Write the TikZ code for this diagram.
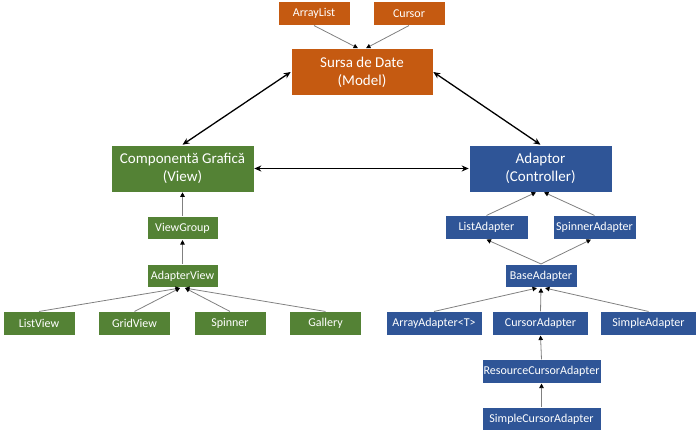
\documentclass[tikz,border=0pt]{standalone}
\usepackage{fontspec}
\setmainfont{Carlito}
\usetikzlibrary{arrows.meta}
\definecolor{modelcol}{HTML}{C55A11}
\definecolor{viewcol}{HTML}{548235}
\definecolor{ctrlcol}{HTML}{2F5597}
\begin{document}
\begin{tikzpicture}[x=1pt,y=-1pt,
    box/.style={draw=white,line width=0.6pt,text=white,inner sep=0pt,
      minimum height=23.5pt,font=\fontsize{12}{14}\selectfont},
    bigbox/.style={box,minimum width=143pt,minimum height=47pt,align=center,
      font=\fontsize{15}{18}\selectfont},
    model/.style={box,fill=modelcol},
    view/.style={box,fill=viewcol},
    ctrl/.style={box,fill=ctrlcol},
    inherit/.style={draw=gray,line width=0.8pt,-{Triangle[black,length=4.5pt,width=4.5pt]}},
    link/.style={draw=black,line width=1.3pt,{Stealth[length=7pt,width=6pt]}-{Stealth[length=7pt,width=6pt]}}]
  \useasboundingbox (0,0) rectangle (700,436);
  \draw
    (314,13.5) node[model,minimum width=72pt] (arraylist){ArrayList}
    (409,13.5) node[model,minimum width=72pt] (cursor){Cursor}
    (362,72) node[model,bigbox,minimum width=142pt] (model){Sursa de Date\\(Model)}
    (182.5,168.5) node[view,bigbox] (view){Componentă Grafică\\(View)}
    (540.5,168.5) node[ctrl,bigbox] (ctrl){Adaptor\\(Controller)}
    (182.5,228) node[view,minimum width=71pt] (viewgroup){ViewGroup}
    (182.5,276) node[view,minimum width=71pt] (adapterview){AdapterView}
    (39,323.5) node[view,minimum width=72pt] (listview){ListView}
    (134.5,323.5) node[view,minimum width=72pt] (gridview){GridView}
    (230,323.5) node[view,minimum width=72pt] (spinner){Spinner}
    (325.5,323.5) node[view,minimum width=72pt] (gallery){Gallery}
    (486.5,227.5) node[ctrl,minimum width=83pt] (listadapter){ListAdapter}
    (594.5,227.5) node[ctrl,minimum width=83pt] (spinneradapter){SpinnerAdapter}
    (541,276) node[ctrl,minimum width=72pt] (baseadapter){BaseAdapter}
    (434,323.5) node[ctrl,minimum width=96pt] (arrayadapter){ArrayAdapter<T>}
    (540.5,323.5) node[ctrl,minimum width=96pt] (cursoradapter){CursorAdapter}
    (648.5,323.5) node[ctrl,minimum width=96pt] (simpleadapter){SimpleAdapter}
    (541.5,371.5) node[ctrl,minimum width=119pt] (rescursoradapter){ResourceCursorAdapter}
    (541.5,419) node[ctrl,minimum width=119pt] (simplecursoradapter){SimpleCursorAdapter};
  \begin{scope}[link]
    \draw (view.north) to (model.west);
    \draw (model.east) to (ctrl.north);
    \draw (view.east) to (ctrl.west);
  \end{scope}
  \begin{scope}[inherit]
    \draw (arraylist.south) to ([xshift=-4pt]model.north);
    \draw (cursor.south) to ([xshift=4pt]model.north);
    \draw (viewgroup.north) to (view.south);
    \draw (adapterview.north) to (viewgroup.south);
    \draw (listview.north) to ([xshift=-2.5pt]adapterview.south);
    \draw (gridview.north) to ([xshift=-2.5pt]adapterview.south);
    \draw (spinner.north) to ([xshift=2.5pt]adapterview.south);
    \draw (gallery.north) to ([xshift=2.5pt]adapterview.south);
    \draw (listadapter.north) to ([xshift=-4.5pt]ctrl.south);
    \draw (spinneradapter.north) to ([xshift=3.5pt]ctrl.south);
    \draw (baseadapter.north) to (listadapter.south);
    \draw (baseadapter.north) to ([xshift=-3.5pt]spinneradapter.south);
    \draw (arrayadapter.north) to ([xshift=-4pt]baseadapter.south);
    \draw (cursoradapter.north) to (baseadapter.south);
    \draw (simpleadapter.north) to ([xshift=4pt]baseadapter.south);
    \draw (rescursoradapter.north) to (cursoradapter.south);
    \draw (simplecursoradapter.north) to (rescursoradapter.south);
  \end{scope}
\end{tikzpicture}
\end{document}
